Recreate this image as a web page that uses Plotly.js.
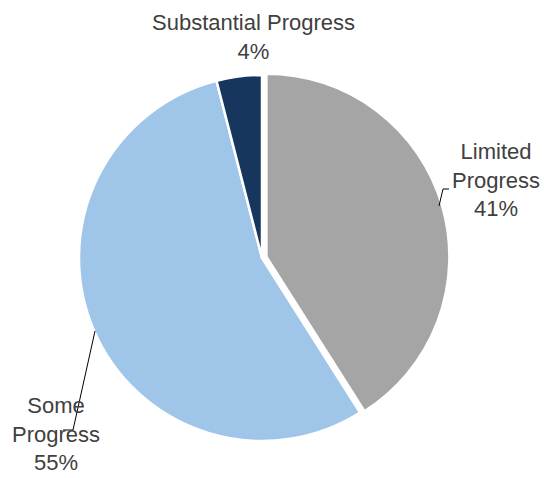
<!DOCTYPE html>
<html>
<head>
<meta charset="utf-8">
<script src="https://cdn.plot.ly/plotly-3.0.1.min.js"></script>
<style>html,body{margin:0;padding:0;background:#fff;}#chart{width:544px;height:478px;}</style>
</head>
<body>
<div id="chart"></div>
<script>
// Data
var categories = ["Limited Progress", "Some Progress", "Substantial Progress"];
var values = [41, 55, 4];
var labelText = ["Limited<br>Progress<br>41%", "Some<br>Progress<br>55%", "Substantial Progress<br>4%"];
var colors = ["#A5A5A5", "#9FC6E9", "#17365D"];
var pulls = [0.025, 0, 0];

var W = 544, H = 478;
function px(x){ return x / W; }
function py(y){ return 1 - y / H; }

var cx = 262, cy = 258, R = 183 * 1.025;
var FONT = "'Liberation Sans', Arial, sans-serif";
var TXT = "#404040";

var trace = {
  type: "pie",
  labels: categories,
  values: values,
  sort: false,
  direction: "clockwise",
  rotation: 0,
  pull: pulls,
  marker: { colors: colors, line: { color: "#ffffff", width: 2.5 } },
  textinfo: "none",
  hoverinfo: "label+percent",
  domain: { x: [px(cx - R), px(cx + R)], y: [py(cy + R), py(cy - R)] },
  showlegend: false
};

var annPos = [
  { x: 496, y: 180 },
  { x: 56, y: 434 },
  { x: 253, y: 37 }
];

var annotations = labelText.map(function(t, i){
  return {
    text: t, x: px(annPos[i].x), y: py(annPos[i].y), xref: "paper", yref: "paper",
    xanchor: "center", yanchor: "middle", showarrow: false, align: "center",
    font: { family: FONT, size: 22, color: TXT }
  };
});

function leader(pts){
  var d = "M " + pts.map(function(p){ return px(p[0]) + "," + py(p[1]); }).join(" L ");
  return { type: "path", xref: "paper", yref: "paper", path: d, line: { color: "#000000", width: 1 } };
}

var shapes = [
  leader([[439, 206], [443, 189], [449, 189]]),
  leader([[95, 331], [73, 430], [63, 430]])
];

var layout = {
  width: W, height: H,
  margin: { l: 0, r: 0, t: 0, b: 0 },
  paper_bgcolor: "#ffffff",
  plot_bgcolor: "#ffffff",
  annotations: annotations,
  shapes: shapes,
  showlegend: false
};

Plotly.newPlot("chart", [trace], layout, { displayModeBar: false, staticPlot: true });
</script>
</body>
</html>
